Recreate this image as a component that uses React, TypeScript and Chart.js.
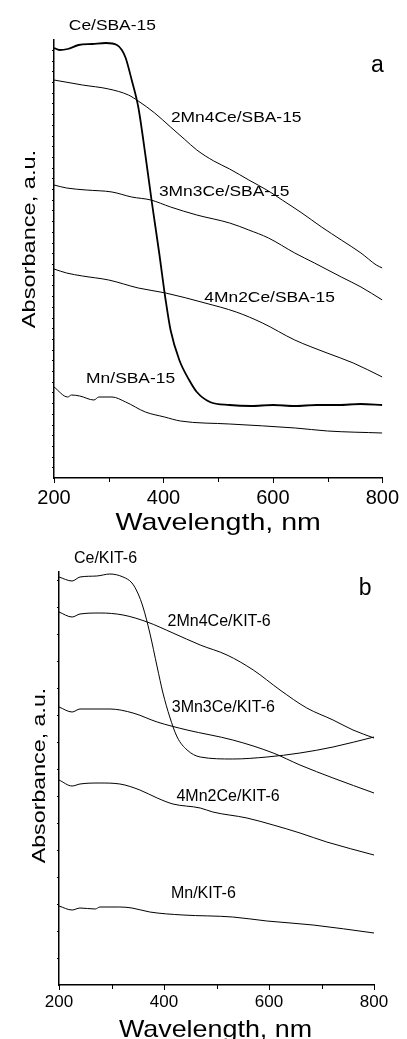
import React, { useEffect, useRef } from 'react';
import { Chart, registerables } from 'chart.js';

Chart.register(...registerables);

const FONT = "'Liberation Sans', Arial, Helvetica, sans-serif";

// ---------- Panel a (SBA-15) ----------
const ceSbaWl = [200, 210, 225, 245, 270, 295, 315, 324, 331, 342, 354, 367, 379, 392, 404, 413, 429, 447, 461, 485, 521, 560, 600, 640, 680, 720, 760, 800];
const ceSbaAbs = [4.30, 4.28, 4.29, 4.33, 4.34, 4.35, 4.33, 4.28, 4.20, 3.98, 3.71, 3.23, 2.75, 2.26, 1.78, 1.48, 1.18, 0.98, 0.86, 0.76, 0.73, 0.72, 0.73, 0.72, 0.73, 0.73, 0.74, 0.73];

const mn2ce4SbaWl = [200, 252, 300, 336, 354, 384, 413, 438, 461, 492, 521, 556, 592, 617, 653, 689, 725, 761, 789, 800];
const mn2ce4SbaAbs = [3.98, 3.93, 3.89, 3.83, 3.77, 3.65, 3.51, 3.39, 3.28, 3.17, 3.09, 2.98, 2.87, 2.78, 2.65, 2.51, 2.38, 2.25, 2.13, 2.10];

const mn3ce3SbaWl = [200, 223, 259, 306, 342, 377, 413, 461, 521, 556, 592, 640, 676, 725, 761, 800];
const mn3ce3SbaAbs = [2.93, 2.90, 2.88, 2.86, 2.81, 2.78, 2.71, 2.63, 2.55, 2.48, 2.40, 2.25, 2.15, 2.01, 1.91, 1.78];

const mn4ce2SbaWl = [200, 223, 252, 300, 354, 404, 476, 533, 581, 640, 699, 747, 800];
const mn4ce2SbaAbs = [2.09, 2.05, 2.02, 1.98, 1.90, 1.85, 1.75, 1.66, 1.55, 1.38, 1.25, 1.15, 1.01];

const mnSbaWl = [200, 225, 232, 247, 273, 282, 306, 331, 367, 402, 431, 521, 641, 700, 800];
const mnSbaAbs = [0.91, 0.81, 0.83, 0.82, 0.78, 0.81, 0.81, 0.76, 0.66, 0.61, 0.57, 0.54, 0.50, 0.47, 0.45];

// ---------- Panel b (KIT-6) ----------
const ceKitWl = [200, 225, 240, 272, 297, 322, 339, 350, 360, 373, 387, 398, 411, 425, 444, 469, 531, 596, 659, 722, 800];
const ceKitAbs = [4.08, 4.04, 4.08, 4.09, 4.11, 4.08, 4.02, 3.92, 3.78, 3.52, 3.18, 2.92, 2.68, 2.48, 2.35, 2.28, 2.26, 2.28, 2.32, 2.38, 2.48];

const mn2ce4KitWl = [200, 225, 240, 278, 322, 368, 417, 469, 520, 570, 621, 672, 722, 760, 800];
const mn2ce4KitAbs = [3.73, 3.68, 3.71, 3.72, 3.70, 3.63, 3.52, 3.40, 3.30, 3.15, 2.95, 2.77, 2.65, 2.55, 2.47];

const mn3ce3KitWl = [200, 225, 240, 297, 341, 387, 444, 531, 608, 659, 722, 800];
const mn3ce3KitAbs = [2.78, 2.73, 2.76, 2.76, 2.72, 2.63, 2.55, 2.45, 2.32, 2.20, 2.07, 1.92];

const mn4ce2KitWl = [200, 225, 240, 278, 316, 354, 387, 417, 469, 493, 558, 608, 659, 710, 800];
const mn4ce2KitAbs = [2.05, 1.99, 2.01, 2.02, 2.01, 1.95, 1.87, 1.81, 1.77, 1.73, 1.67, 1.60, 1.52, 1.43, 1.30];

const mnKitWl = [200, 225, 240, 269, 278, 316, 339, 373, 436, 531, 596, 684, 800];
const mnKitAbs = [0.79, 0.75, 0.77, 0.76, 0.78, 0.78, 0.77, 0.73, 0.70, 0.68, 0.64, 0.60, 0.52];

const xTickValues = [200, 400, 600, 800];
const xTitle = 'Wavelength, nm';
const yTitle = 'Absorbance, a.u.';

type Label = { text: string; wl: number; abs: number; size: number; sx: number };

type Series = { wl: number[]; abs: number[]; width: number };

type PanelCfg = {
  width: number;
  height: number;
  yMax: number;
  pad: { left: number; right: number; top: number };
  yAxisWidth: number;
  xAxisHeight: number;
  tickFont: number;
  tickPad: number;
  yTickStep: number;
  series: Series[];
  labels: Label[];
  xTitle: { size: number; sx: number; baselineOffset: number; dx: number };
  yTitle: { size: number; sx: number; baselineX: number; dy: number };
};

const panelA: PanelCfg = {
  width: 407,
  height: 548,
  yMax: 4.38,
  pad: { left: 0, right: 18, top: 40 },
  yAxisWidth: 54,
  xAxisHeight: 70,
  tickFont: 20,
  tickPad: 8,
  yTickStep: 0.107,
  series: [
    { wl: ceSbaWl, abs: ceSbaAbs, width: 1.8 },
    { wl: mn2ce4SbaWl, abs: mn2ce4SbaAbs, width: 1 },
    { wl: mn3ce3SbaWl, abs: mn3ce3SbaAbs, width: 1 },
    { wl: mn4ce2SbaWl, abs: mn4ce2SbaAbs, width: 1 },
    { wl: mnSbaWl, abs: mnSbaAbs, width: 1 },
  ],
  labels: [
    { text: 'Ce/SBA-15', wl: 306.6, abs: 4.48, size: 14.5, sx: 1.2 },
    { text: 'a', wl: 791, abs: 4.06, size: 23, sx: 1 },
    { text: '2Mn4Ce/SBA-15', wl: 533, abs: 3.56, size: 14.5, sx: 1.2 },
    { text: '3Mn3Ce/SBA-15', wl: 511, abs: 2.82, size: 14.5, sx: 1.2 },
    { text: '4Mn2Ce/SBA-15', wl: 594, abs: 1.76, size: 14.5, sx: 1.2 },
    { text: 'Mn/SBA-15', wl: 340, abs: 0.95, size: 14.5, sx: 1.2 },
  ],
  xTitle: { size: 24, sx: 1.19, baselineOffset: 52, dx: 0 },
  yTitle: { size: 18, sx: 1.31, baselineX: 35, dy: -20 },
};

const panelB: PanelCfg = {
  width: 407,
  height: 491,
  yMax: 4.13,
  pad: { left: 0, right: 33, top: 24 },
  yAxisWidth: 59,
  xAxisHeight: 54,
  tickFont: 17,
  tickPad: 7,
  yTickStep: 0.27,
  series: [
    { wl: ceKitWl, abs: ceKitAbs, width: 1 },
    { wl: mn2ce4KitWl, abs: mn2ce4KitAbs, width: 1 },
    { wl: mn3ce3KitWl, abs: mn3ce3KitAbs, width: 1 },
    { wl: mn4ce2KitWl, abs: mn4ce2KitAbs, width: 1 },
    { wl: mnKitWl, abs: mnKitAbs, width: 1 },
  ],
  labels: [
    { text: 'Ce/KIT-6', wl: 288.6, abs: 4.22, size: 16, sx: 1 },
    { text: 'b', wl: 783, abs: 3.90, size: 23, sx: 1 },
    { text: '2Mn4Ce/KIT-6', wl: 505, abs: 3.59, size: 16, sx: 1 },
    { text: '3Mn3Ce/KIT-6', wl: 513, abs: 2.735, size: 16, sx: 1 },
    { text: '4Mn2Ce/KIT-6', wl: 522, abs: 1.84, size: 16, sx: 1 },
    { text: 'Mn/KIT-6', wl: 475, abs: 0.87, size: 16, sx: 1 },
  ],
  xTitle: { size: 24, sx: 1.12, baselineOffset: 52, dx: -1 },
  yTitle: { size: 18, sx: 1.29, baselineX: 45, dy: -3 },
};

function makePlugin(cfg: PanelCfg) {
  return {
    id: 'panelText',
    afterDraw(chart: any) {
      const { ctx, chartArea, scales } = chart;
      const xs = scales.x;
      const ys = scales.y;
      ctx.save();
      ctx.strokeStyle = '#000';
      ctx.fillStyle = '#000';
      ctx.lineWidth = 1;
      // x ticks (major + minor), outward
      for (let v = 200; v <= 800; v += 100) {
        const px = Math.round(xs.getPixelForValue(v)) + 0.5;
        const major = xTickValues.includes(v);
        ctx.beginPath();
        ctx.moveTo(px, chartArea.bottom);
        ctx.lineTo(px, chartArea.bottom + (major ? 5 : 4));
        ctx.stroke();
      }
      // y ticks, outward short
      for (let v = cfg.yTickStep; v < ys.max; v += cfg.yTickStep) {
        const py = Math.round(ys.getPixelForValue(v)) + 0.5;
        ctx.beginPath();
        ctx.moveTo(chartArea.left, py);
        ctx.lineTo(chartArea.left - 2, py);
        ctx.stroke();
      }
      // curve labels
      ctx.textAlign = 'center';
      ctx.textBaseline = 'alphabetic';
      for (const l of cfg.labels) {
        const px = xs.getPixelForValue(l.wl);
        const py = ys.getPixelForValue(l.abs);
        ctx.save();
        ctx.translate(px, py);
        ctx.scale(l.sx, 1);
        ctx.font = `${l.size}px ${FONT}`;
        ctx.fillText(l.text, 0, 0);
        ctx.restore();
      }
      // x title
      {
        const cx = (chartArea.left + chartArea.right) / 2 + cfg.xTitle.dx;
        ctx.save();
        ctx.translate(cx, chartArea.bottom + cfg.xTitle.baselineOffset);
        ctx.scale(cfg.xTitle.sx, 1);
        ctx.font = `${cfg.xTitle.size}px ${FONT}`;
        ctx.fillText(xTitle, 0, 0);
        ctx.restore();
      }
      // y title
      {
        const cy = (chartArea.top + chartArea.bottom) / 2 + cfg.yTitle.dy;
        ctx.save();
        ctx.translate(cfg.yTitle.baselineX, cy);
        ctx.rotate(-Math.PI / 2);
        ctx.scale(cfg.yTitle.sx, 1);
        ctx.font = `${cfg.yTitle.size}px ${FONT}`;
        ctx.fillText(yTitle, 0, 0);
        ctx.restore();
      }
      ctx.restore();
    },
  };
}

function Panel({ cfg, top }: { cfg: PanelCfg; top: number }) {
  const ref = useRef<HTMLCanvasElement | null>(null);
  useEffect(() => {
    if (!ref.current) return;
    const chart = new Chart(ref.current, {
      type: 'line',
      data: {
        datasets: cfg.series.map((s) => ({
          data: s.wl.map((x, i) => ({ x, y: s.abs[i] })),
          borderColor: '#000',
          borderWidth: s.width,
          pointRadius: 0,
          fill: false,
          cubicInterpolationMode: 'monotone' as const,
        })),
      },
      options: {
        responsive: false,
        animation: false,
        events: [],
        layout: { padding: { left: cfg.pad.left, right: cfg.pad.right, top: cfg.pad.top, bottom: 0 } },
        plugins: { legend: { display: false }, tooltip: { enabled: false } },
        scales: {
          x: {
            type: 'linear',
            min: 200,
            max: 800,
            afterFit: (s: any) => {
              s.height = cfg.xAxisHeight;
            },
            afterBuildTicks: (s: any) => {
              s.ticks = xTickValues.map((v) => ({ value: v }));
            },
            ticks: {
              color: '#000',
              font: { family: FONT, size: cfg.tickFont },
              padding: cfg.tickPad,
              maxRotation: 0,
              autoSkip: false,
            },
            grid: { display: false, drawTicks: false },
            border: { display: true, color: '#000', width: 1.5 },
          },
          y: {
            type: 'linear',
            min: 0,
            max: cfg.yMax,
            afterFit: (s: any) => {
              s.width = cfg.yAxisWidth;
            },
            ticks: { display: false },
            grid: { display: false, drawTicks: false },
            border: { display: true, color: '#000', width: 1.5 },
          },
        },
      },
      plugins: [makePlugin(cfg)],
    } as any);
    return () => chart.destroy();
  }, [cfg]);
  return (
    <canvas
      ref={ref}
      width={cfg.width}
      height={cfg.height}
      style={{ position: 'absolute', left: 0, top, display: 'block' }}
    />
  );
}

export default function App() {
  return (
    <div style={{ position: 'absolute', left: 0, top: 0, width: 407, height: 1039, background: '#fff', overflow: 'hidden' }}>
      <Panel cfg={panelA} top={0} />
      <Panel cfg={panelB} top={548} />
    </div>
  );
}
